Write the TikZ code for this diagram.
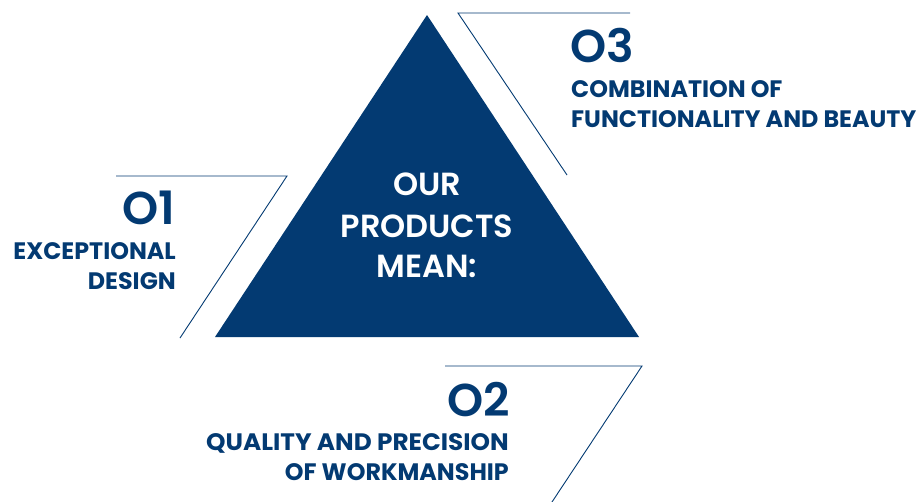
\documentclass[tikz,border=0pt]{standalone}
\usepackage{fontspec}
\setmainfont{Poppins}[BoldFont={* SemiBold}]
\newfontfamily\popbold{Poppins}[UprightFont={* Bold}]
\definecolor{navy}{RGB}{3,58,114}
\begin{document}
\begin{tikzpicture}[x=1pt,y=-1pt,
  big/.style={font=\fontsize{46}{46}\selectfont\bfseries, text=navy, inner sep=0pt},
  lab/.style={font=\fontsize{23.8}{23.8}\selectfont\popbold, text=navy, inner sep=0pt},
  ctr/.style={font=\fontsize{32}{32}\selectfont\bfseries, text=white, inner sep=0pt, anchor=base},
  frame/.style={draw=navy, line width=0.9pt}]
\useasboundingbox (0,0) rectangle (921,501);
% triangle
\coordinate (apex) at (427,15);
\coordinate (bl) at (215,337);
\coordinate (br) at (639,337);
\fill[navy] (apex) -- (br) -- (bl) -- cycle;
% frames
\coordinate (a1) at (458,13); \coordinate (a2) at (630,13); \coordinate (a3) at (567,175);
\draw[frame] (a2) -- (a1) -- (a3);
\coordinate (b1) at (116,176); \coordinate (b2) at (287,176); \coordinate (b3) at (180,338);
\draw[frame] (b1) -- (b2) -- (b3);
\coordinate (c1) at (445,366); \coordinate (c2) at (642,366); \coordinate (c3) at (550,505);
\draw[frame] (c1) -- (c2) -- (c3);
% center text
\node[ctr] (t1) at (427,195) {OUR};
\node[ctr] (t2) at (427,237) {PRODUCTS};
\node[ctr] (t3) at (427,277) {MEAN:};
% O3
\node[big, anchor=base west] (n3) at (570,62) {O3};
\node[lab, anchor=base west] (l3a) at (571,97) {COMBINATION OF};
\node[lab, anchor=base west] (l3b) at (571,127) {FUNCTIONALITY AND BEAUTY};
% O1
\node[big, anchor=base east] (n1) at (175,224) {O1};
\node[lab, anchor=base east] (l1a) at (176,259) {EXCEPTIONAL};
\node[lab, anchor=base east] (l1b) at (176,289) {DESIGN};
% O2
\node[big, anchor=base east] (n2) at (510,416) {O2};
\node[lab, anchor=base east, xscale=1.04] (l2a) at (509,450) {QUALITY AND PRECISION};
\node[lab, anchor=base east] (l2b) at (509,480) {OF WORKMANSHIP};
\end{tikzpicture}
\end{document}
